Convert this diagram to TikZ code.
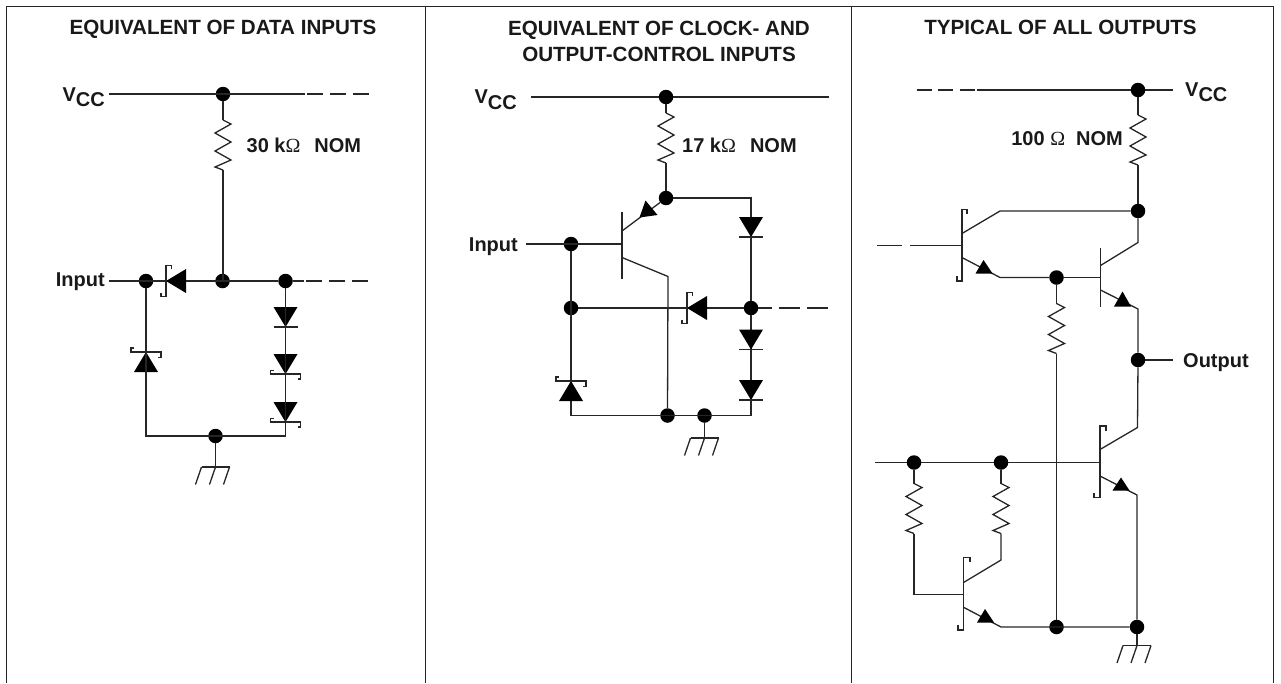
\documentclass[tikz,border=0pt]{standalone}
\usepackage{fontspec}
\setmainfont{Liberation Sans}
\newfontfamily\omfont{Liberation Serif}
\newcommand{\Om}{{\omfont\mdseries\fontsize{20}{22}\selectfont\char"03A9}}
\newcommand{\Vcc}{V\raisebox{-5.5pt}{CC}}
\tikzset{
  wire/.style={draw=black!85,line width=1.3pt},
  dot/.style={circle,fill=black,draw=none,minimum size=14.5pt,inner sep=0pt},
  lbl/.style={font=\fontsize{20}{24}\selectfont\bfseries,inner sep=0pt,text=black!90},
  head/.style={font=\fontsize{20.6}{26.7}\selectfont\bfseries,inner sep=0pt,align=center,text=black!90},
  fillh/.style={fill=black,draw=none},
  frame/.style={draw=black!85,line width=1.4pt},
  dashwire/.style={wire,dash pattern=on 16pt off 7pt},
  res/.pic={
    \coordinate (-a) at (0,0);
    \coordinate (-b) at (0,50);
    \draw[wire] (0,0)--(8,4)--(-8,13)--(8,22)--(-8,31)--(8,40)--(-8,47)--(0,50);
  },
  ddown/.pic={
    \coordinate (-a) at (0,0);
    \coordinate (-b) at (0,20);
    \fill[fillh] (-12,0)--(12,0)--(0,20)--cycle;
    \draw[wire] (-12,20)--(12,20);
  },
  ddownS/.pic={
    \coordinate (-a) at (0,0);
    \coordinate (-b) at (0,20);
    \fill[fillh] (-12,0)--(12,0)--(0,20)--cycle;
    \draw[wire] (-12,16.5)--(-15,16.5)--(-15,20)--(15,20)--(15,25)--(12,25);
  },
  dupS/.pic={
    \coordinate (-a) at (0,0);
    \coordinate (-b) at (0,20);
    \fill[fillh] (-12,20)--(12,20)--(0,0)--cycle;
    \draw[wire] (-12,-4)--(-15,-4)--(-15,0)--(15,0)--(15,5.5)--(12,5.5);
  },
  dleftS/.pic={
    \coordinate (-a) at (0,0);
    \coordinate (-b) at (20,0);
    \fill[fillh] (20,-12)--(20,12)--(0,0)--cycle;
    \draw[wire] (5.5,-12)--(5.5,-15.5)--(0,-15.5)--(0,15.5)--(-5,15.5)--(-5,11.5);
  },
  earth/.pic={
    \coordinate (-a) at (0,0);
    \draw[wire] (-14,0)--(14,0);
    \draw[wire] (-14,0)--(-20,17.5);
    \draw[wire] (0,0)--(-6,17.5);
    \draw[wire] (14,0)--(8,17.5);
  }
}
\begin{document}
\begin{tikzpicture}[x=1pt,y=-1pt]
\useasboundingbox (0,0) rectangle (1281,683);
% frame
\coordinate (fa) at (6.5,683); \coordinate (fb) at (6.5,6.5); \coordinate (fc) at (1273.5,6.5); \coordinate (fd) at (1273.5,683);
\coordinate (m1a) at (425.5,6.5); \coordinate (m1b) at (425.5,683);
\coordinate (m2a) at (851.5,6.5); \coordinate (m2b) at (851.5,683);
\draw[frame] (fa)--(fb)--(fc)--(fd);
\draw[frame] (m1a)--(m1b);
\draw[frame] (m2a)--(m2b);
% titles
\node[head] (t1) at (223,29) {EQUIVALENT OF DATA INPUTS};
\node[head] (t2) at (659,41.5) {EQUIVALENT OF CLOCK- AND\\OUTPUT-CONTROL INPUTS};
\node[head] (t3) at (1060.5,27) {TYPICAL OF ALL OUTPUTS};

% ---------- panel 1
\node[lbl,anchor=east] (v1) at (105,97) {\Vcc};
\node[lbl,anchor=east] (i1) at (105,282) {Input};
\node[lbl,anchor=west] (r1l) at (246.5,145) {30 k\Om\hspace{0.7em}NOM};
\node[dot] (n1) at (223,94) {};
\node[dot] (n2) at (146,281) {};
\node[dot] (n3) at (222.5,281) {};
\node[dot] (n4) at (285.5,281) {};
\node[dot] (n5) at (215.5,436) {};
\coordinate (l1) at (109,94); \coordinate (l2) at (305,94); \coordinate (l3) at (373,94);
\draw[wire] (l1)--(l2);
\draw[dashwire,dash phase=-2pt] (l2)--(l3);
\pic (R1) at (223,120) {res};
\draw[wire] (n1)--(R1-a);
\draw[wire] (R1-b)--(223,281);
\coordinate (l4) at (109,281); \coordinate (l5) at (304,281); \coordinate (l6) at (370,281);
\draw[wire] (l4)--(n4)--(l5);
\draw[dashwire,dash phase=-2pt] (l5)--(l6);
\pic (D1) at (166,281) {dleftS};
\pic (D2) at (285.5,307) {ddown};
\pic (D3) at (285.5,354) {ddownS};
\pic (D4) at (285.5,402) {ddownS};
\pic (D5) at (146,352) {dupS};
\coordinate (c1) at (146,436); \coordinate (c2) at (285.5,436);
\draw[wire] (n2)--(c1)--(c2)--(n4);
\pic (G1) at (215.5,467) {earth};
\draw[wire] (n5)--(G1-a);

% ---------- panel 2
\node[lbl,anchor=east] (v2) at (517,99.5) {\Vcc};
\node[lbl,anchor=east] (i2) at (518,247) {Input};
\node[lbl,anchor=west] (r2l) at (682,145) {17 k\Om\hspace{0.7em}NOM};
\coordinate (a1) at (531,97); \coordinate (a2) at (829,97);
\draw[wire] (a1)--(a2);
\node[dot] (p1) at (666,97) {};
\pic (R2) at (666,113) {res};
\draw[wire] (p1)--(R2-a);
\node[dot] (p2) at (666,198) {};
\draw[wire] (R2-b)--(p2);
\node[dot] (p3) at (751,308) {};
\node[dot] (p4) at (571,244) {};
\node[dot] (p5) at (571,308) {};
\node[dot] (p6) at (667.5,415.5) {};
\node[dot] (p7) at (704.5,415.5) {};
\coordinate (a3) at (751,198);
\draw[wire] (p2)--(a3)--(p3);
\coordinate (a4) at (526,244);
\coordinate (tb) at (622,244);
\draw[wire] (a4)--(tb);
\draw[wire] (622,212)--(622,279);
\coordinate (te) at (622,231);
\draw[wire] (te)--(p2);
\fill[fillh] (645.5,200.5)--(639.5,217.5)--(657.5,215)--cycle;
\coordinate (tc) at (622,257.5); \coordinate (tc2) at (668,276.5);
\draw[wire] (tc)--(tc2)--(p6);
\coordinate (a5) at (571,415.5); \coordinate (a6) at (751,415.5);
\draw[wire] (p4)--(a5)--(a6)--(p3);
\draw[wire] (p5)--(p3);
\coordinate (a7) at (772,308); \coordinate (a8) at (829,308);
\draw[wire] (p3)--(a7);
\draw[dashwire,dash pattern=on 21pt off 7pt,dash phase=-7pt] (a7)--(a8);
\pic (D6) at (687,308) {dleftS};
\pic (D7) at (751,217) {ddown};
\pic (D8) at (751,329.5) {ddown};
\pic (D9) at (751,380) {ddown};
\pic (D10) at (571,381) {dupS};
\pic (G2) at (704.5,438) {earth};
\draw[wire] (p7)--(G2-a);

% ---------- panel 3
\node[lbl,anchor=west] (v3) at (1185,92) {\Vcc};
\node[lbl,anchor=east] (r3l) at (1123,139) {100 \Om\hspace{0.55em}NOM};
\node[lbl,anchor=west] (o1) at (1183,363) {Output};
\coordinate (b1) at (976.5,90); \coordinate (b2) at (1173,90); \coordinate (b0) at (916.5,90);
\draw[wire] (b1)--(b2);
\draw[dashwire,dash pattern=on 15pt off 6.5pt] (b0)--(b1);
\node[dot] (q1) at (1138,90) {};
\pic (R3) at (1138,115) {res};
\draw[wire] (q1)--(R3-a);
\node[dot] (q2) at (1138,211) {};
\draw[wire] (R3-b)--(q2);
% T1
\draw[wire] (967,214)--(967,209.5)--(962,209.5)--(962,281)--(957,281)--(957,276);
\coordinate (u1) at (1000,211); \coordinate (u2) at (962,233.5);
\draw[wire] (q2)--(u1)--(u2);
\coordinate (u3) at (877,245.5); \coordinate (u4) at (962,245.5);
\draw[dashwire,dash pattern=on 25pt off 8pt] (u3)--(u4);
\draw[wire] (930,245.5)--(u4);
\node[dot] (q3) at (1056.5,277.5) {};
\coordinate (u5) at (962,257.5); \coordinate (u6) at (1000,277.5);
\draw[wire] (u5)--(u6)--(q3);
\fill[fillh] (983.5,260)--(975.5,273.5)--(992.5,273.5)--cycle;
% T2
\coordinate (u7) at (1100.5,277.5);
\draw[wire] (q3)--(u7);
\draw[wire] (1100.5,248)--(1100.5,306.5);
\coordinate (u8) at (1100.5,265.5); \coordinate (u9) at (1138,242.5);
\draw[wire] (u8)--(u9)--(q2);
\coordinate (u10) at (1100.5,290); \coordinate (u11) at (1138,309);
\node[dot] (q4) at (1138,360) {};
\draw[wire] (u10)--(u11)--(q4);
\fill[fillh] (1122.5,291.5)--(1114,306.5)--(1131,306.5)--cycle;
\coordinate (u12) at (1173,360);
\draw[wire] (q4)--(u12);
% R below q3
\pic (R4) at (1056.5,303.5) {res};
\draw[wire] (q3)--(R4-a);
\node[dot] (q5) at (1056.5,627) {};
\draw[wire] (R4-b)--(q5);
% T3
\draw[wire] (1106,431)--(1106,426)--(1100,426)--(1100,497.5)--(1094,497.5)--(1094,493);
\coordinate (u13) at (1137.5,427.5); \coordinate (u14) at (1100,449.5);
\draw[wire] (q4)--(u13)--(u14);
\coordinate (u15) at (875,462.5); \coordinate (u16) at (1100,462.5);
\draw[wire] (u15)--(u16);
\node[dot] (q6) at (914,462.5) {};
\node[dot] (q7) at (1001,462.5) {};
\coordinate (u17) at (1100,476); \coordinate (u18) at (1137,495);
\node[dot] (q8) at (1137,627) {};
\draw[wire] (u17)--(u18)--(q8);
\fill[fillh] (1121,477.5)--(1112.5,490.5)--(1129.5,490.5)--cycle;
% R5,R6
\pic (R5) at (914,483.5) {res};
\pic (R6) at (1001,483.5) {res};
\draw[wire] (q6)--(R5-a);
\draw[wire] (q7)--(R6-a);
% T4
\draw[wire] (970,562)--(970,557.5)--(963.5,557.5)--(963.5,630)--(958,630)--(958,625);
\coordinate (u19) at (963.5,594.5); \coordinate (u20) at (914,594.5);
\draw[wire] (R5-b)--(u20)--(u19);
\coordinate (u21) at (1001,560); \coordinate (u22) at (963.5,582.5);
\draw[wire] (R6-b)--(u21)--(u22);
\coordinate (u23) at (964,607.5); \coordinate (u24) at (1001,627);
\draw[wire] (u23)--(u24)--(q8);
\fill[fillh] (985,609)--(977,622.5)--(994,622.5)--cycle;
\pic (G3) at (1137,645.5) {earth};
\draw[wire] (q8)--(G3-a);
\end{tikzpicture}
\end{document}
